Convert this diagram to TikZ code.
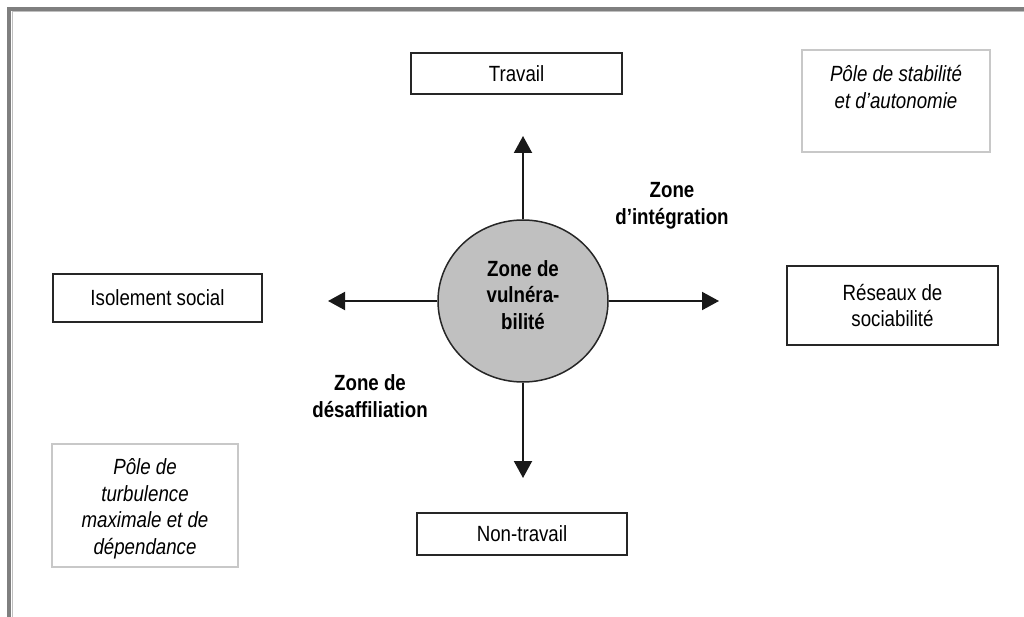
\documentclass[tikz,border=0pt]{standalone}
\usepackage{fontspec}
\setmainfont{Liberation Sans}[FakeStretch=0.85]
\usetikzlibrary{arrows.meta,shapes.geometric}
\definecolor{frameg}{HTML}{7F7F7F}
\definecolor{poleg}{HTML}{C8C8C8}
\definecolor{discg}{HTML}{C0C0C0}
\definecolor{edge}{HTML}{262626}
\tikzset{
  lbl/.style={font=\fontsize{22}{26.5}\selectfont, align=center, inner sep=0pt},
  mainbox/.style={draw=edge, line width=2pt, fill=white, inner sep=0pt, lbl},
  polebox/.style={draw=poleg, line width=2pt, fill=white, inner sep=0pt},
  itext/.style={lbl, font=\fontsize{22}{26.5}\selectfont\itshape},
  btext/.style={lbl, font=\fontsize{22}{26.5}\selectfont\bfseries},
  arr/.style={draw=black!90, line width=2pt, -{Triangle[length=17pt,width=18pt]}},
}
\begin{document}
\begin{tikzpicture}[x=1pt,y=-1pt]
\useasboundingbox (0,0) rectangle (1024,617);
% frame
\draw[frameg, line width=4pt] (9,617) -- (9,9) -- (1024,9);
\draw[white!75!black, line width=1pt] (12,617) -- (12,12) -- (1024,12);
% main boxes
\node[mainbox, minimum width=211pt, minimum height=41pt] (trav) at (516.5,73.5) {Travail};
\node[mainbox, minimum width=210pt, minimum height=42pt] (nontrav) at (522,534) {Non-travail};
\node[mainbox, minimum width=209pt, minimum height=48pt] (isol) at (157.5,298) {Isolement social};
\node[mainbox, minimum width=211pt, minimum height=79pt] (res) at (892.5,305.5) {Réseaux de\\sociabilité};
% pole boxes
\node[polebox, minimum width=188pt, minimum height=102pt] (stab) at (896,101) {};
\node[itext] (stabt) at (896,87) {Pôle de stabilité\\et d'autonomie};
\node[polebox, minimum width=186pt, minimum height=123pt] (turb) at (145,505.5) {};
\node[itext] (turbt) at (145,509) {Pôle de\\turbulence\\maximale et de\\dépendance};
% central disc
\node[ellipse, draw=edge, line width=1.5pt, fill=discg, minimum width=170pt, minimum height=162pt, inner sep=0pt] (disc) at (523,301) {};
\node[btext] (disct) at (523,295) {Zone de\\vulnéra-\\bilité};
% arrow ends
\coordinate (tu) at (523,136);
\coordinate (td) at (523,478);
\coordinate (tl) at (328,301);
\coordinate (tr) at (719,301);
\draw[arr] (disc.north) -- (tu);
\draw[arr] (disc.south) -- (td);
\draw[arr] (disc.west) -- (tl);
\draw[arr] (disc.east) -- (tr);
% zone labels
\node[btext] (zint) at (672,206) {Zone\\d'intégration};
\node[btext] (zdes) at (370,396) {Zone de\\désaffiliation};
\end{tikzpicture}
\end{document}
